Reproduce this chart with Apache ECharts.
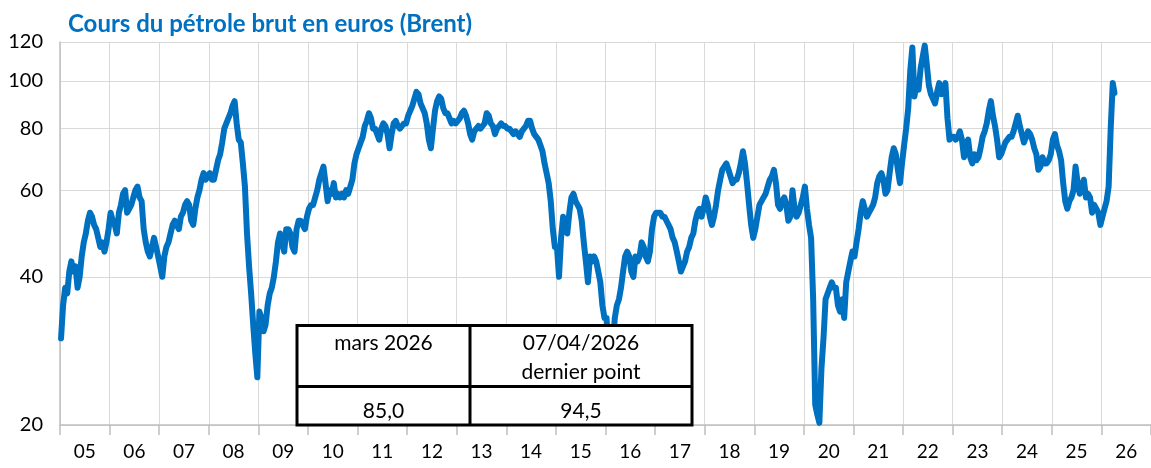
<!DOCTYPE html>
<html lang="fr">
<head>
<meta charset="utf-8">
<title>Cours du pétrole brut en euros (Brent)</title>
<script src="https://cdn.jsdelivr.net/npm/echarts@6/dist/echarts.min.js"></script>
<style>
  html, body { margin: 0; padding: 0; background: #fff; }
  #chart { width: 1151px; height: 468px; }
</style>
</head>
<body>
<div id="chart"></div>
<script>
// Brent in euros per barrel, two readings per month (first and second half).
const y2005 = [30, 35, 38, 37, 41, 43, 41, 42, 38, 40, 44, 47, 49, 52, 54, 53, 51, 50, 48, 46, 47, 45, 47, 50];
const y2006 = [54, 52, 51, 49, 54, 56, 59, 60, 54, 55, 56, 58, 60, 61, 58, 57, 50, 47, 45, 44, 46, 48, 46, 44];
const y2007 = [42, 40, 44, 46, 47, 49, 51, 52, 51, 50, 53, 54, 56, 57, 56, 52, 51, 55, 58, 60, 63, 65, 63, 64];
const y2008 = [65, 63, 63, 66, 69, 71, 75, 80, 82, 84, 86, 89, 91, 82, 76, 75, 68, 61, 49, 42, 37, 32, 28, 25];
const y2009 = [34, 33, 31, 32, 35, 37, 38, 40, 43, 47, 49, 47, 45, 50, 50, 49, 46, 45, 50, 52, 52, 51, 50, 53];
const y2010 = [55, 56, 56, 58, 60, 63, 65, 67, 62, 57, 60, 59, 62, 58, 59, 58, 59, 58, 60, 59, 61, 63, 68, 71];
const y2011 = [73, 75, 77, 81, 83, 86, 84, 80, 80, 78, 76, 80, 82, 81, 78, 73, 78, 82, 83, 81, 80, 81, 82, 82];
const y2012 = [85, 87, 89, 92, 95, 94, 90, 88, 86, 82, 76, 73, 80, 87, 91, 93, 92, 88, 86, 86, 84, 82, 83, 82];
const y2013 = [83, 84, 86, 87, 85, 82, 78, 76, 79, 80, 81, 80, 81, 82, 86, 85, 82, 81, 78, 80, 81, 82, 81, 81];
const y2014 = [80, 80, 79, 78, 79, 78, 77, 79, 80, 81, 83, 83, 80, 78, 77, 76, 74, 72, 68, 65, 62, 57, 50, 46];
const y2015 = [46, 40, 48, 53, 50, 49, 54, 58, 59, 57, 56, 55, 52, 47, 43, 39, 44, 43, 44, 43, 41, 39, 35, 33];
const y2016 = [33, 28, 30, 29, 33, 35, 36, 38, 41, 44, 45, 44, 41, 40, 44, 43, 44, 47, 46, 44, 43, 45, 50, 53];
const y2017 = [54, 54, 54, 53, 53, 52, 51, 50, 48, 47, 45, 43, 41, 42, 43, 45, 46, 48, 49, 52, 54, 55, 53, 55];
const y2018 = [58, 56, 53, 51, 53, 56, 60, 63, 66, 67, 68, 66, 64, 62, 63, 63, 65, 68, 72, 68, 62, 56, 51, 48];
const y2019 = [50, 53, 56, 57, 58, 59, 61, 63, 64, 66, 62, 56, 55, 57, 58, 56, 52, 53, 60, 55, 53, 54, 56, 58];
const y2020 = [61, 55, 51, 48, 36, 22, 21, 20.2, 26, 30, 36, 37, 38, 39, 38, 38, 35, 34, 36, 33, 39, 41, 43, 45];
const y2021 = [44, 47, 50, 54, 57, 55, 53, 54, 55, 56, 58, 62, 64, 65, 63, 59, 60, 65, 70, 73, 71, 66, 62, 68];
const y2022 = [74, 80, 88, 105, 117, 93, 99, 96, 106, 112, 118, 108, 98, 94, 92, 90, 95, 99, 94, 96, 99, 84, 76, 77];
const y2023 = [77, 76, 77, 79, 76, 70, 74, 76, 70, 68, 71, 69, 70, 73, 77, 79, 82, 87, 91, 85, 81, 76, 70, 71];
const y2024 = [73, 75, 76, 77, 77, 79, 82, 85, 81, 78, 75, 77, 79, 78, 76, 73, 71, 66, 67, 70, 68, 68, 69, 71];
const y2025 = [76, 78, 74, 72, 69, 62, 57, 55, 57, 58, 60, 67, 62, 59, 61, 63, 58, 59, 58, 54, 56, 55, 54, 51];
const y2026 = [53, 55, 57, 61, 80, 99];

// Latest quote and March 2026 average shown in the summary table
const lastDate = '07/04/2026';
const lastValue = 94.5;
const marchLabel = 'mars 2026';
const marchAverage = 85.0;

const yearTicks = [2005, 2006, 2007, 2008, 2009, 2010, 2011, 2012, 2013, 2014, 2015,
                   2016, 2017, 2018, 2019, 2020, 2021, 2022, 2023, 2024, 2025, 2026];
const priceTicks = [20, 40, 60, 80, 100, 120];

const byYear = [y2005, y2006, y2007, y2008, y2009, y2010, y2011, y2012, y2013, y2014, y2015,
                y2016, y2017, y2018, y2019, y2020, y2021, y2022, y2023, y2024, y2025, y2026];

// Place each half-month reading at the middle of its half-month, in decimal years
const series = [];
byYear.forEach((vals, k) => {
  const yr = yearTicks[k];
  vals.forEach((v, i) => series.push([yr + (i + 0.5) / 24, v]));
});
// 7 April 2026 = day 97 of the year
series.push([2026 + 96 / 365, lastValue]);

const frNum = v => v.toFixed(1).replace('.', ',');
const font = 'Lato, "Liberation Sans", sans-serif';

const chart = echarts.init(document.getElementById('chart'), null, { renderer: 'canvas' });

// Summary table drawn over the lower part of the plot
const tX = 297, tY = 325.5, tW = 395, tH = 99.5, colSplit = 173, rowSplit = 61;
const cell = (text, cx, cy) => ({
  type: 'text', z: 102,
  style: { text, x: tX + cx, y: tY + cy, align: 'center', verticalAlign: 'middle',
           font: '21px ' + font, fill: '#000' }
});

chart.setOption({
  animation: false,
  backgroundColor: '#fff',
  title: {
    text: 'Cours du pétrole brut en euros (Brent)',
    left: 63, top: 7,
    textStyle: { color: '#0070C0', fontWeight: 'bold', fontSize: 24, fontFamily: font }
  },
  grid: { left: 60, right: -2, top: 42, bottom: 43 },
  xAxis: {
    type: 'value', min: 2005, max: 2027, interval: 1,
    axisLine: { show: true, onZero: false, lineStyle: { color: '#bfbfbf', width: 1.5 } },
    axisTick: { show: true, length: 10, lineStyle: { color: '#bfbfbf', width: 1.5 } },
    splitLine: { show: true, lineStyle: { color: '#d9d9d9', width: 1 } },
    axisLabel: {
      customValues: yearTicks.map(y => y + 0.5),
      formatter: v => String(Math.floor(v) % 100).padStart(2, '0'),
      color: '#000', fontSize: 19, fontFamily: font, margin: 17
    }
  },
  yAxis: {
    type: 'log', logBase: 10, min: 20, max: 120,
    axisLine: { show: true, lineStyle: { color: '#bfbfbf', width: 1.5 } },
    axisTick: { show: false, customValues: priceTicks },
    splitLine: { show: true, lineStyle: { color: '#d9d9d9', width: 1 } },
    axisLabel: {
      customValues: priceTicks,
      color: '#000', fontSize: 20, fontFamily: font, margin: 17
    }
  },
  series: [{
    type: 'line',
    data: series,
    showSymbol: false,
    clip: true,
    z: 3,
    lineStyle: { color: '#0070C0', width: 6, cap: 'round', join: 'round' }
  }],
  graphic: [
    { type: 'rect', z: 100,
      shape: { x: tX, y: tY, width: tW, height: tH },
      style: { fill: '#fff', stroke: '#000', lineWidth: 3 } },
    { type: 'line', z: 101,
      shape: { x1: tX + colSplit, y1: tY, x2: tX + colSplit, y2: tY + tH },
      style: { stroke: '#000', lineWidth: 3 } },
    { type: 'line', z: 101,
      shape: { x1: tX, y1: tY + rowSplit, x2: tX + tW, y2: tY + rowSplit },
      style: { stroke: '#000', lineWidth: 3 } },
    cell(marchLabel, colSplit / 2, 18),
    cell(lastDate, colSplit + (tW - colSplit) / 2, 18),
    cell('dernier point', colSplit + (tW - colSplit) / 2, 47),
    cell(frNum(marchAverage), colSplit / 2, 86),
    cell(frNum(lastValue), colSplit + (tW - colSplit) / 2, 86)
  ]
});
</script>
</body>
</html>
